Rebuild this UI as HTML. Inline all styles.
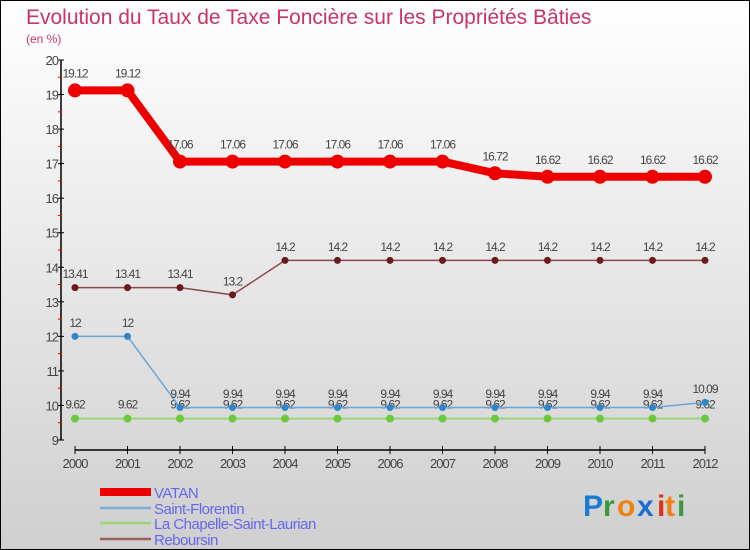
<!DOCTYPE html>
<html><head><meta charset="utf-8"><style>
body{margin:0;width:750px;height:550px;overflow:hidden}
svg{display:block;font-family:"Liberation Sans",sans-serif}
</style></head><body>
<svg width="750" height="550">
<defs><linearGradient id="bg" x1="0" y1="0" x2="0" y2="1"><stop offset="0" stop-color="#ffffff"/><stop offset="1" stop-color="#cfcfcf"/></linearGradient></defs>
<rect x="0.5" y="0.5" width="749" height="549" fill="url(#bg)" stroke="#000"/>
<text x="26" y="24" font-size="21" fill="#c8336a">Evolution du Taux de Taxe Foncière sur les Propriétés Bâties</text>
<text x="26" y="43" font-size="12" fill="#c8336a">(en %)</text>
<g id="axes"></g><g id="series"></g><g id="legend"></g>
<g font-size="30" font-weight="bold">
<text x="583" y="516" fill="#1a7bd0">P</text><text x="603" y="516" fill="#3a9a3a">r</text><text x="617" y="516" fill="#f08010">o</text><text x="637" y="516" fill="#1a6fd0">x</text><text x="657" y="516" fill="#e03010">i</text><text x="665" y="516" fill="#f08010">t</text><text x="677" y="516" fill="#3a9a3a">i</text>
</g>
</svg>
<script>
const years=[2000,2001,2002,2003,2004,2005,2006,2007,2008,2009,2010,2011,2012];
const yTicks=[9,10,11,12,13,14,15,16,17,18,19,20];
const vatan=[19.12,19.12,17.06,17.06,17.06,17.06,17.06,17.06,16.72,16.62,16.62,16.62,16.62];
const florentin=[12,12,9.94,9.94,9.94,9.94,9.94,9.94,9.94,9.94,9.94,9.94,10.09];
const chapelle=[9.62,9.62,9.62,9.62,9.62,9.62,9.62,9.62,9.62,9.62,9.62,9.62,9.62];
const reboursin=[13.41,13.41,13.41,13.2,14.2,14.2,14.2,14.2,14.2,14.2,14.2,14.2,14.2];
const names=["VATAN","Saint-Florentin","La Chapelle-Saint-Laurian","Reboursin"];
const NS="http://www.w3.org/2000/svg";
const X=i=>75+i*52.5, Y=v=>440-(v-9)*380/11;
function mk(t,a,p){const e=document.createElementNS(NS,t);for(const k in a)e.setAttribute(k,a[k]);p.appendChild(e);return e;}
const ax=document.getElementById('axes');
let e=mk('line',{x1:61,y1:60,x2:61,y2:440,stroke:'#000','stroke-width':1.5},ax);


e=mk('line',{x1:75,y1:450,x2:705,y2:450,stroke:'#000','stroke-width':1.5},ax);


yTicks.forEach(v=>{mk('line',{x1:58,x2:64,y1:Y(v),y2:Y(v),stroke:'#000'},ax);
 if(v<20)mk('line',{x1:58,x2:62,y1:Y(v+0.5),y2:Y(v+0.5),stroke:'#e00'},ax);
 const t=mk('text',{x:58,y:Y(v)+5,'text-anchor':'end','font-size':13,fill:'#444','letter-spacing':'-1'},ax);t.textContent=v;
 
 });
years.forEach((y,i)=>{mk('line',{x1:X(i),x2:X(i),y1:446,y2:454,stroke:'#000'},ax);
 const t=mk('text',{x:X(i),y:468,'text-anchor':'middle','font-size':13,fill:'#444','letter-spacing':'-1'},ax);t.textContent=y;
 
 });
const sg=document.getElementById('series');
function series(vals,col,w,r,dot,name){const g=mk('g',{},sg);
 
 
 mk('polyline',{points:vals.map((v,i)=>X(i)+','+Y(v)).join(' '),fill:'none',stroke:col,'stroke-width':w,'stroke-linejoin':'round'},g);
 vals.forEach((v,i)=>{const c=mk('circle',{cx:X(i),cy:Y(v),r:r,fill:dot},g);
  
  
  const t=mk('text',{x:X(i),y:Y(v)-(r+6),'text-anchor':'middle','font-size':12,fill:'#444','letter-spacing':'-1'},g);t.textContent=v;
  
  });}
series(chapelle,'#9ad67a',2,4,'#6cc93c','chapelle-series');
series(florentin,'#6aa6d8',1.5,3.5,'#2e86c8','florentin-series');
series(reboursin,'#8a4a4a',1.5,3.5,'#6a1a1a','reboursin-series');
series(vatan,'#ee0000',8,7,'#ee0000','vatan-series');
const lg=document.getElementById('legend');
const lc=['#ee0000','#7ab0d8','#9ad67a','#9a6060'],lw=[8,2.5,2.5,2.5],ly=[492,508,523,539];
names.forEach((n,i)=>{const g=mk('g',{},lg);
 
 
 mk('line',{x1:100,x2:151,y1:ly[i],y2:ly[i],stroke:lc[i],'stroke-width':lw[i]},g);
 const t=mk('text',{x:154,y:ly[i]+6,'font-size':15,fill:'#6666ee','letter-spacing':'-0.5'},g);t.textContent=n;});
</script>
</body></html>
